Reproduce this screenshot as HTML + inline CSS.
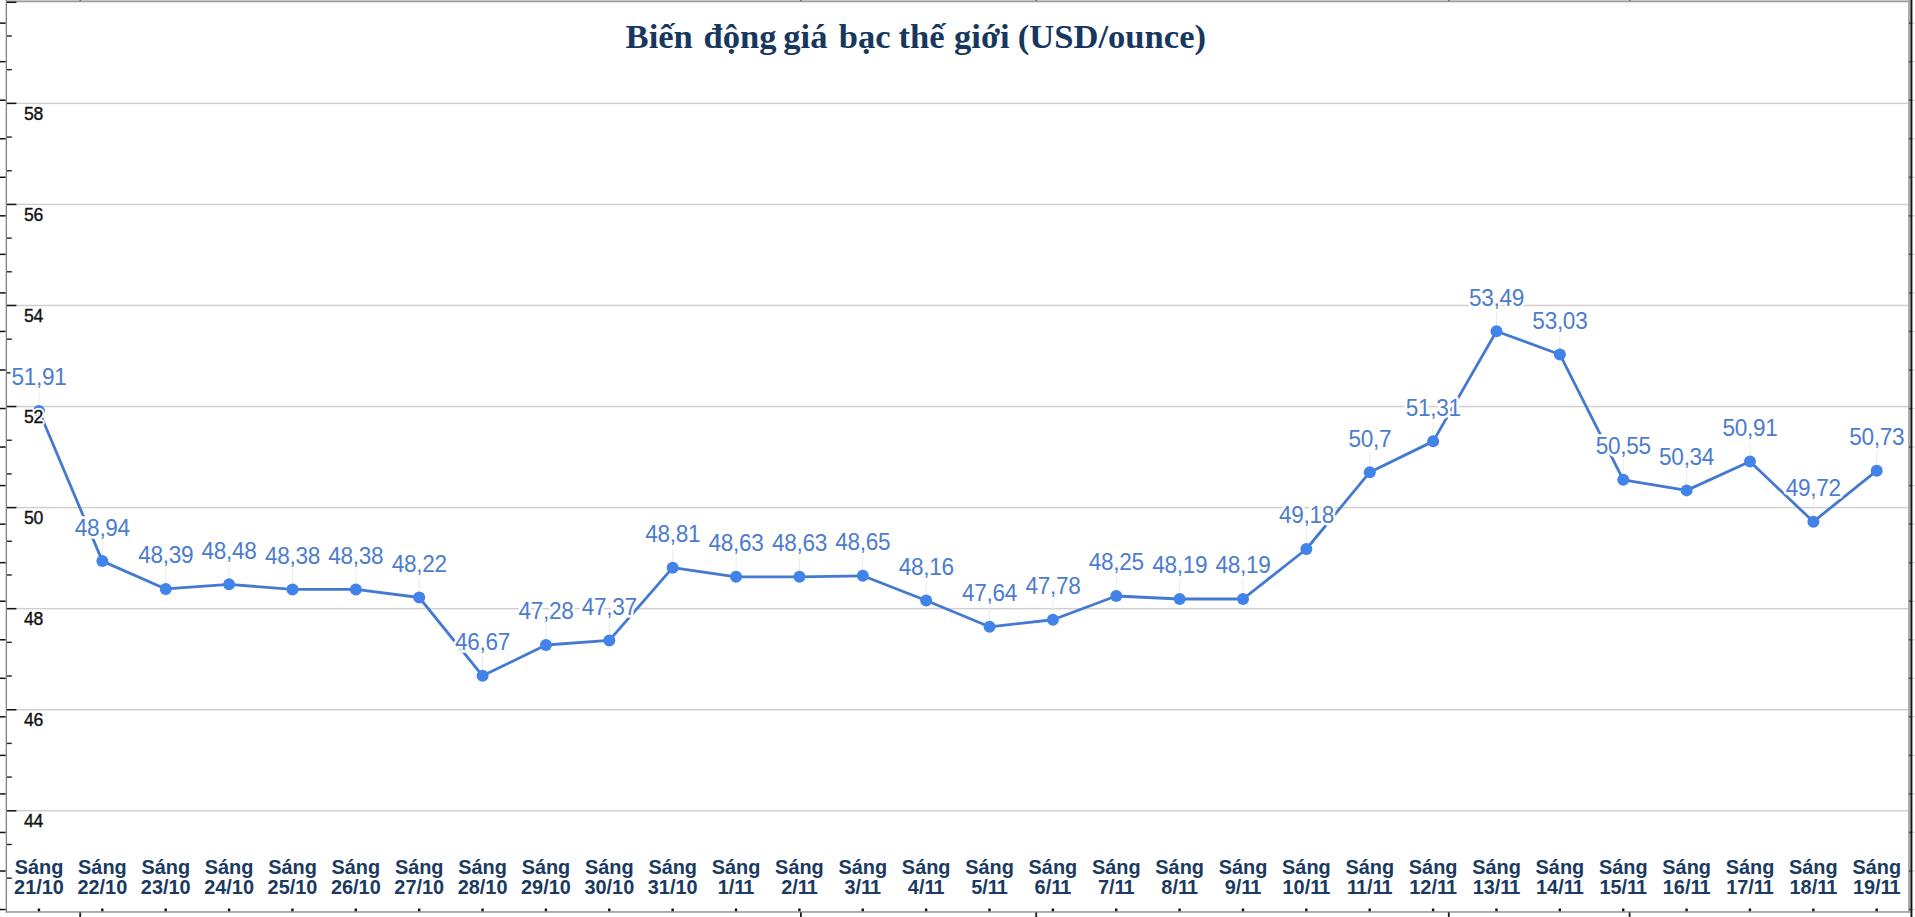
<!DOCTYPE html>
<html lang="vi"><head><meta charset="utf-8"><title>Biến động giá bạc thế giới</title>
<style>
html,body{margin:0;padding:0;background:#fff;}
body{width:1915px;height:917px;overflow:hidden;}
svg{display:block;}
.yh,.yl{font-family:"Liberation Sans",Arial,sans-serif;font-size:17.6px;letter-spacing:-0.5px;}
.yh{fill:#fff;stroke:#fff;stroke-width:4px;stroke-linejoin:round;}
.yl{fill:#111;stroke:#111;stroke-width:0.35px;}
.dh,.dl{font-family:"Liberation Sans",Arial,sans-serif;font-size:22.6px;letter-spacing:-0.3px;text-anchor:middle;}
.dh{fill:#fff;stroke:#fff;stroke-width:5px;stroke-linejoin:round;}
.dl{fill:#4c7ccd;}
.xl{font-family:"Liberation Sans",Arial,sans-serif;font-size:19.9px;font-weight:bold;fill:#1b3a5f;text-anchor:middle;}
.tt{font-family:"Liberation Serif","Times New Roman",serif;font-size:34.6px;font-weight:bold;fill:#17375e;text-anchor:start;}
</style></head><body>
<svg width="1915" height="917" viewBox="0 0 1915 917">
<rect x="0" y="0" width="1915" height="917" fill="#fff"/>

<rect x="1912" y="22.52" width="3" height="1.2" fill="#d8d8d8"/>
<rect x="1912" y="61.06" width="3" height="1.2" fill="#d8d8d8"/>
<rect x="1912" y="99.60" width="3" height="1.2" fill="#d8d8d8"/>
<rect x="1912" y="138.14" width="3" height="1.2" fill="#d8d8d8"/>
<rect x="1912" y="176.68" width="3" height="1.2" fill="#d8d8d8"/>
<rect x="1912" y="215.22" width="3" height="1.2" fill="#d8d8d8"/>
<rect x="1912" y="253.76" width="3" height="1.2" fill="#d8d8d8"/>
<rect x="1912" y="292.30" width="3" height="1.2" fill="#d8d8d8"/>
<rect x="1912" y="330.84" width="3" height="1.2" fill="#d8d8d8"/>
<rect x="1912" y="369.38" width="3" height="1.2" fill="#d8d8d8"/>
<rect x="1912" y="407.92" width="3" height="1.2" fill="#d8d8d8"/>
<rect x="1912" y="446.46" width="3" height="1.2" fill="#d8d8d8"/>
<rect x="1912" y="485.00" width="3" height="1.2" fill="#d8d8d8"/>
<rect x="1912" y="523.54" width="3" height="1.2" fill="#d8d8d8"/>
<rect x="1912" y="562.08" width="3" height="1.2" fill="#d8d8d8"/>
<rect x="1912" y="600.62" width="3" height="1.2" fill="#d8d8d8"/>
<rect x="1912" y="639.16" width="3" height="1.2" fill="#d8d8d8"/>
<rect x="1912" y="677.70" width="3" height="1.2" fill="#d8d8d8"/>
<rect x="1912" y="716.24" width="3" height="1.2" fill="#d8d8d8"/>
<rect x="1912" y="754.78" width="3" height="1.2" fill="#d8d8d8"/>
<rect x="1912" y="793.32" width="3" height="1.2" fill="#d8d8d8"/>
<rect x="1912" y="831.86" width="3" height="1.2" fill="#d8d8d8"/>
<rect x="1912" y="870.40" width="3" height="1.2" fill="#d8d8d8"/>
<rect x="1912" y="908.94" width="3" height="1.2" fill="#d8d8d8"/>
<rect x="7" y="102.61" width="1902" height="1.5" fill="#d0d0d0"/>
<rect x="7" y="203.67" width="1902" height="1.5" fill="#d0d0d0"/>
<rect x="7" y="304.73" width="1902" height="1.5" fill="#d0d0d0"/>
<rect x="7" y="405.79" width="1902" height="1.5" fill="#d0d0d0"/>
<rect x="7" y="506.85" width="1902" height="1.5" fill="#d0d0d0"/>
<rect x="7" y="607.91" width="1902" height="1.5" fill="#d0d0d0"/>
<rect x="7" y="708.97" width="1902" height="1.5" fill="#d0d0d0"/>
<rect x="7" y="810.03" width="1902" height="1.5" fill="#d0d0d0"/>
<rect x="6" y="0" width="1904" height="1" fill="#c6c6c6"/>
<rect x="6" y="1" width="1904" height="1.2" fill="#9c9c9c"/>
<rect x="17" y="2.2" width="1891" height="0.8" fill="#e4e4e4"/>
<rect x="6" y="911.1" width="1904" height="1.7" fill="#a2a2a2"/>
<rect x="5.7" y="0" width="1.3" height="912.6" fill="#808080"/>
<rect x="1908" y="0" width="2.5" height="912.8" fill="#adadad"/>
<rect x="1910.5" y="0" width="1.9" height="917" fill="#111"/>
<rect x="7" y="1.55" width="9.4" height="1.5" fill="#151515"/>
<rect x="7" y="35.29" width="4.8" height="1.4" fill="#222"/>
<rect x="7" y="68.97" width="4.8" height="1.4" fill="#222"/>
<rect x="7" y="102.61" width="9.4" height="1.5" fill="#151515"/>
<rect x="7" y="136.35" width="4.8" height="1.4" fill="#222"/>
<rect x="7" y="170.03" width="4.8" height="1.4" fill="#222"/>
<rect x="7" y="203.67" width="9.4" height="1.5" fill="#151515"/>
<rect x="7" y="237.41" width="4.8" height="1.4" fill="#222"/>
<rect x="7" y="271.09" width="4.8" height="1.4" fill="#222"/>
<rect x="7" y="304.73" width="9.4" height="1.5" fill="#151515"/>
<rect x="7" y="338.47" width="4.8" height="1.4" fill="#222"/>
<rect x="7" y="372.15" width="4.8" height="1.4" fill="#222"/>
<rect x="7" y="405.79" width="9.4" height="1.5" fill="#151515"/>
<rect x="7" y="439.53" width="4.8" height="1.4" fill="#222"/>
<rect x="7" y="473.21" width="4.8" height="1.4" fill="#222"/>
<rect x="7" y="506.85" width="9.4" height="1.5" fill="#151515"/>
<rect x="7" y="540.59" width="4.8" height="1.4" fill="#222"/>
<rect x="7" y="574.27" width="4.8" height="1.4" fill="#222"/>
<rect x="7" y="607.91" width="9.4" height="1.5" fill="#151515"/>
<rect x="7" y="641.65" width="4.8" height="1.4" fill="#222"/>
<rect x="7" y="675.33" width="4.8" height="1.4" fill="#222"/>
<rect x="7" y="708.97" width="9.4" height="1.5" fill="#151515"/>
<rect x="7" y="742.71" width="4.8" height="1.4" fill="#222"/>
<rect x="7" y="776.39" width="4.8" height="1.4" fill="#222"/>
<rect x="7" y="810.03" width="9.4" height="1.5" fill="#151515"/>
<rect x="7" y="843.77" width="4.8" height="1.4" fill="#222"/>
<rect x="7" y="877.45" width="4.8" height="1.4" fill="#222"/>
<rect x="0" y="22.37" width="5.6" height="1.5" fill="#111"/>
<rect x="1909.2" y="22.32" width="1.6" height="1.6" fill="#333"/>
<rect x="0" y="60.91" width="5.6" height="1.5" fill="#111"/>
<rect x="1909.2" y="60.86" width="1.6" height="1.6" fill="#333"/>
<rect x="0" y="99.45" width="5.6" height="1.5" fill="#111"/>
<rect x="1909.2" y="99.40" width="1.6" height="1.6" fill="#333"/>
<rect x="0" y="137.99" width="5.6" height="1.5" fill="#111"/>
<rect x="1909.2" y="137.94" width="1.6" height="1.6" fill="#333"/>
<rect x="0" y="176.53" width="5.6" height="1.5" fill="#111"/>
<rect x="1909.2" y="176.48" width="1.6" height="1.6" fill="#333"/>
<rect x="0" y="215.07" width="5.6" height="1.5" fill="#111"/>
<rect x="1909.2" y="215.02" width="1.6" height="1.6" fill="#333"/>
<rect x="0" y="253.61" width="5.6" height="1.5" fill="#111"/>
<rect x="1909.2" y="253.56" width="1.6" height="1.6" fill="#333"/>
<rect x="0" y="292.15" width="5.6" height="1.5" fill="#111"/>
<rect x="1909.2" y="292.10" width="1.6" height="1.6" fill="#333"/>
<rect x="0" y="330.69" width="5.6" height="1.5" fill="#111"/>
<rect x="1909.2" y="330.64" width="1.6" height="1.6" fill="#333"/>
<rect x="0" y="369.23" width="5.6" height="1.5" fill="#111"/>
<rect x="1909.2" y="369.18" width="1.6" height="1.6" fill="#333"/>
<rect x="0" y="407.77" width="5.6" height="1.5" fill="#111"/>
<rect x="1909.2" y="407.72" width="1.6" height="1.6" fill="#333"/>
<rect x="0" y="446.31" width="5.6" height="1.5" fill="#111"/>
<rect x="1909.2" y="446.26" width="1.6" height="1.6" fill="#333"/>
<rect x="0" y="484.85" width="5.6" height="1.5" fill="#111"/>
<rect x="1909.2" y="484.80" width="1.6" height="1.6" fill="#333"/>
<rect x="0" y="523.39" width="5.6" height="1.5" fill="#111"/>
<rect x="1909.2" y="523.34" width="1.6" height="1.6" fill="#333"/>
<rect x="0" y="561.93" width="5.6" height="1.5" fill="#111"/>
<rect x="1909.2" y="561.88" width="1.6" height="1.6" fill="#333"/>
<rect x="0" y="600.47" width="5.6" height="1.5" fill="#111"/>
<rect x="1909.2" y="600.42" width="1.6" height="1.6" fill="#333"/>
<rect x="0" y="639.01" width="5.6" height="1.5" fill="#111"/>
<rect x="1909.2" y="638.96" width="1.6" height="1.6" fill="#333"/>
<rect x="0" y="677.55" width="5.6" height="1.5" fill="#111"/>
<rect x="1909.2" y="677.50" width="1.6" height="1.6" fill="#333"/>
<rect x="0" y="716.09" width="5.6" height="1.5" fill="#111"/>
<rect x="1909.2" y="716.04" width="1.6" height="1.6" fill="#333"/>
<rect x="0" y="754.63" width="5.6" height="1.5" fill="#111"/>
<rect x="1909.2" y="754.58" width="1.6" height="1.6" fill="#333"/>
<rect x="0" y="793.17" width="5.6" height="1.5" fill="#111"/>
<rect x="1909.2" y="793.12" width="1.6" height="1.6" fill="#333"/>
<rect x="0" y="831.71" width="5.6" height="1.5" fill="#111"/>
<rect x="1909.2" y="831.66" width="1.6" height="1.6" fill="#333"/>
<rect x="0" y="870.25" width="5.6" height="1.5" fill="#111"/>
<rect x="1909.2" y="870.20" width="1.6" height="1.6" fill="#333"/>
<rect x="0" y="908.79" width="5.6" height="1.5" fill="#111"/>
<rect x="1909.2" y="908.74" width="1.6" height="1.6" fill="#333"/>
<rect x="79.30" y="912.4" width="1.8" height="4.6" fill="#1c1c1c"/>
<rect x="79.50" y="0" width="1.4" height="1" fill="#555"/>
<rect x="800.00" y="912.4" width="1.8" height="4.6" fill="#1c1c1c"/>
<rect x="800.20" y="0" width="1.4" height="1" fill="#555"/>
<rect x="1035.30" y="912.4" width="1.8" height="4.6" fill="#1c1c1c"/>
<rect x="1035.50" y="0" width="1.4" height="1" fill="#555"/>
<rect x="1447.90" y="912.4" width="1.8" height="4.6" fill="#1c1c1c"/>
<rect x="1448.10" y="0" width="1.4" height="1" fill="#555"/>
<rect x="1628.70" y="912.4" width="1.8" height="4.6" fill="#1c1c1c"/>
<rect x="1628.90" y="0" width="1.4" height="1" fill="#555"/>
<rect x="37.75" y="908.5" width="2.4" height="2.7" fill="#111"/>
<rect x="101.12" y="908.5" width="2.4" height="2.7" fill="#111"/>
<rect x="164.49" y="908.5" width="2.4" height="2.7" fill="#111"/>
<rect x="227.86" y="908.5" width="2.4" height="2.7" fill="#111"/>
<rect x="291.23" y="908.5" width="2.4" height="2.7" fill="#111"/>
<rect x="354.60" y="908.5" width="2.4" height="2.7" fill="#111"/>
<rect x="417.97" y="908.5" width="2.4" height="2.7" fill="#111"/>
<rect x="481.34" y="908.5" width="2.4" height="2.7" fill="#111"/>
<rect x="544.71" y="908.5" width="2.4" height="2.7" fill="#111"/>
<rect x="608.08" y="908.5" width="2.4" height="2.7" fill="#111"/>
<rect x="671.45" y="908.5" width="2.4" height="2.7" fill="#111"/>
<rect x="734.82" y="908.5" width="2.4" height="2.7" fill="#111"/>
<rect x="798.19" y="908.5" width="2.4" height="2.7" fill="#111"/>
<rect x="861.56" y="908.5" width="2.4" height="2.7" fill="#111"/>
<rect x="924.93" y="908.5" width="2.4" height="2.7" fill="#111"/>
<rect x="988.30" y="908.5" width="2.4" height="2.7" fill="#111"/>
<rect x="1051.67" y="908.5" width="2.4" height="2.7" fill="#111"/>
<rect x="1115.04" y="908.5" width="2.4" height="2.7" fill="#111"/>
<rect x="1178.41" y="908.5" width="2.4" height="2.7" fill="#111"/>
<rect x="1241.78" y="908.5" width="2.4" height="2.7" fill="#111"/>
<rect x="1305.15" y="908.5" width="2.4" height="2.7" fill="#111"/>
<rect x="1368.52" y="908.5" width="2.4" height="2.7" fill="#111"/>
<rect x="1431.89" y="908.5" width="2.4" height="2.7" fill="#111"/>
<rect x="1495.26" y="908.5" width="2.4" height="2.7" fill="#111"/>
<rect x="1558.63" y="908.5" width="2.4" height="2.7" fill="#111"/>
<rect x="1622.00" y="908.5" width="2.4" height="2.7" fill="#111"/>
<rect x="1685.37" y="908.5" width="2.4" height="2.7" fill="#111"/>
<rect x="1748.74" y="908.5" width="2.4" height="2.7" fill="#111"/>
<rect x="1812.11" y="908.5" width="2.4" height="2.7" fill="#111"/>
<rect x="1875.48" y="908.5" width="2.4" height="2.7" fill="#111"/>
<rect x="38.50" y="391.05" width="1" height="16" fill="#ebebeb"/>
<rect x="101.87" y="541.12" width="1" height="16" fill="#ebebeb"/>
<rect x="165.24" y="568.91" width="1" height="16" fill="#ebebeb"/>
<rect x="228.61" y="564.37" width="1" height="16" fill="#ebebeb"/>
<rect x="291.98" y="569.42" width="1" height="16" fill="#ebebeb"/>
<rect x="355.35" y="569.42" width="1" height="16" fill="#ebebeb"/>
<rect x="418.72" y="577.50" width="1" height="16" fill="#ebebeb"/>
<rect x="482.09" y="655.82" width="1" height="16" fill="#ebebeb"/>
<rect x="545.46" y="625.00" width="1" height="16" fill="#ebebeb"/>
<rect x="608.83" y="620.45" width="1" height="16" fill="#ebebeb"/>
<rect x="672.20" y="547.69" width="1" height="16" fill="#ebebeb"/>
<rect x="735.57" y="556.79" width="1" height="16" fill="#ebebeb"/>
<rect x="798.94" y="556.79" width="1" height="16" fill="#ebebeb"/>
<rect x="862.31" y="555.78" width="1" height="16" fill="#ebebeb"/>
<rect x="925.68" y="580.54" width="1" height="16" fill="#ebebeb"/>
<rect x="989.05" y="606.81" width="1" height="16" fill="#ebebeb"/>
<rect x="1052.42" y="599.74" width="1" height="16" fill="#ebebeb"/>
<rect x="1115.79" y="575.99" width="1" height="16" fill="#ebebeb"/>
<rect x="1179.16" y="579.02" width="1" height="16" fill="#ebebeb"/>
<rect x="1242.53" y="579.02" width="1" height="16" fill="#ebebeb"/>
<rect x="1305.90" y="528.99" width="1" height="16" fill="#ebebeb"/>
<rect x="1369.27" y="452.19" width="1" height="16" fill="#ebebeb"/>
<rect x="1432.64" y="421.37" width="1" height="16" fill="#ebebeb"/>
<rect x="1496.01" y="311.21" width="1" height="16" fill="#ebebeb"/>
<rect x="1559.38" y="334.45" width="1" height="16" fill="#ebebeb"/>
<rect x="1622.75" y="459.77" width="1" height="16" fill="#ebebeb"/>
<rect x="1686.12" y="470.38" width="1" height="16" fill="#ebebeb"/>
<rect x="1749.49" y="441.58" width="1" height="16" fill="#ebebeb"/>
<rect x="1812.86" y="501.71" width="1" height="16" fill="#ebebeb"/>
<rect x="1876.23" y="450.67" width="1" height="16" fill="#ebebeb"/>
<polyline points="39.00,411.05 102.37,561.12 165.74,588.91 229.11,584.37 292.48,589.42 355.85,589.42 419.22,597.50 482.59,675.82 545.96,645.00 609.33,640.45 672.70,567.69 736.07,576.79 799.44,576.79 862.81,575.78 926.18,600.54 989.55,626.81 1052.92,619.74 1116.29,595.99 1179.66,599.02 1243.03,599.02 1306.40,548.99 1369.77,472.19 1433.14,441.37 1496.51,331.21 1559.88,354.45 1623.25,479.77 1686.62,490.38 1749.99,461.58 1813.36,521.71 1876.73,470.67" fill="none" stroke="#4479d2" stroke-width="2.8" stroke-linejoin="round"/>
<circle cx="39.00" cy="411.05" r="6" fill="#4283ea"/>
<circle cx="102.37" cy="561.12" r="6" fill="#4283ea"/>
<circle cx="165.74" cy="588.91" r="6" fill="#4283ea"/>
<circle cx="229.11" cy="584.37" r="6" fill="#4283ea"/>
<circle cx="292.48" cy="589.42" r="6" fill="#4283ea"/>
<circle cx="355.85" cy="589.42" r="6" fill="#4283ea"/>
<circle cx="419.22" cy="597.50" r="6" fill="#4283ea"/>
<circle cx="482.59" cy="675.82" r="6" fill="#4283ea"/>
<circle cx="545.96" cy="645.00" r="6" fill="#4283ea"/>
<circle cx="609.33" cy="640.45" r="6" fill="#4283ea"/>
<circle cx="672.70" cy="567.69" r="6" fill="#4283ea"/>
<circle cx="736.07" cy="576.79" r="6" fill="#4283ea"/>
<circle cx="799.44" cy="576.79" r="6" fill="#4283ea"/>
<circle cx="862.81" cy="575.78" r="6" fill="#4283ea"/>
<circle cx="926.18" cy="600.54" r="6" fill="#4283ea"/>
<circle cx="989.55" cy="626.81" r="6" fill="#4283ea"/>
<circle cx="1052.92" cy="619.74" r="6" fill="#4283ea"/>
<circle cx="1116.29" cy="595.99" r="6" fill="#4283ea"/>
<circle cx="1179.66" cy="599.02" r="6" fill="#4283ea"/>
<circle cx="1243.03" cy="599.02" r="6" fill="#4283ea"/>
<circle cx="1306.40" cy="548.99" r="6" fill="#4283ea"/>
<circle cx="1369.77" cy="472.19" r="6" fill="#4283ea"/>
<circle cx="1433.14" cy="441.37" r="6" fill="#4283ea"/>
<circle cx="1496.51" cy="331.21" r="6" fill="#4283ea"/>
<circle cx="1559.88" cy="354.45" r="6" fill="#4283ea"/>
<circle cx="1623.25" cy="479.77" r="6" fill="#4283ea"/>
<circle cx="1686.62" cy="490.38" r="6" fill="#4283ea"/>
<circle cx="1749.99" cy="461.58" r="6" fill="#4283ea"/>
<circle cx="1813.36" cy="521.71" r="6" fill="#4283ea"/>
<circle cx="1876.73" cy="470.67" r="6" fill="#4283ea"/>
<g transform="translate(39.00,385.45) scale(1,1.055)"><text class="dh">51,91</text><text class="dl">51,91</text></g>
<g transform="translate(102.37,535.52) scale(1,1.055)"><text class="dh">48,94</text><text class="dl">48,94</text></g>
<g transform="translate(165.74,563.31) scale(1,1.055)"><text class="dh">48,39</text><text class="dl">48,39</text></g>
<g transform="translate(229.11,558.77) scale(1,1.055)"><text class="dh">48,48</text><text class="dl">48,48</text></g>
<g transform="translate(292.48,563.82) scale(1,1.055)"><text class="dh">48,38</text><text class="dl">48,38</text></g>
<g transform="translate(355.85,563.82) scale(1,1.055)"><text class="dh">48,38</text><text class="dl">48,38</text></g>
<g transform="translate(419.22,571.90) scale(1,1.055)"><text class="dh">48,22</text><text class="dl">48,22</text></g>
<g transform="translate(482.59,650.22) scale(1,1.055)"><text class="dh">46,67</text><text class="dl">46,67</text></g>
<g transform="translate(545.96,619.40) scale(1,1.055)"><text class="dh">47,28</text><text class="dl">47,28</text></g>
<g transform="translate(609.33,614.85) scale(1,1.055)"><text class="dh">47,37</text><text class="dl">47,37</text></g>
<g transform="translate(672.70,542.09) scale(1,1.055)"><text class="dh">48,81</text><text class="dl">48,81</text></g>
<g transform="translate(736.07,551.19) scale(1,1.055)"><text class="dh">48,63</text><text class="dl">48,63</text></g>
<g transform="translate(799.44,551.19) scale(1,1.055)"><text class="dh">48,63</text><text class="dl">48,63</text></g>
<g transform="translate(862.81,550.18) scale(1,1.055)"><text class="dh">48,65</text><text class="dl">48,65</text></g>
<g transform="translate(926.18,574.94) scale(1,1.055)"><text class="dh">48,16</text><text class="dl">48,16</text></g>
<g transform="translate(989.55,601.21) scale(1,1.055)"><text class="dh">47,64</text><text class="dl">47,64</text></g>
<g transform="translate(1052.92,594.14) scale(1,1.055)"><text class="dh">47,78</text><text class="dl">47,78</text></g>
<g transform="translate(1116.29,570.39) scale(1,1.055)"><text class="dh">48,25</text><text class="dl">48,25</text></g>
<g transform="translate(1179.66,573.42) scale(1,1.055)"><text class="dh">48,19</text><text class="dl">48,19</text></g>
<g transform="translate(1243.03,573.42) scale(1,1.055)"><text class="dh">48,19</text><text class="dl">48,19</text></g>
<g transform="translate(1306.40,523.39) scale(1,1.055)"><text class="dh">49,18</text><text class="dl">49,18</text></g>
<g transform="translate(1369.77,446.59) scale(1,1.055)"><text class="dh">50,7</text><text class="dl">50,7</text></g>
<g transform="translate(1433.14,415.77) scale(1,1.055)"><text class="dh">51,31</text><text class="dl">51,31</text></g>
<g transform="translate(1496.51,305.61) scale(1,1.055)"><text class="dh">53,49</text><text class="dl">53,49</text></g>
<g transform="translate(1559.88,328.85) scale(1,1.055)"><text class="dh">53,03</text><text class="dl">53,03</text></g>
<g transform="translate(1623.25,454.17) scale(1,1.055)"><text class="dh">50,55</text><text class="dl">50,55</text></g>
<g transform="translate(1686.62,464.78) scale(1,1.055)"><text class="dh">50,34</text><text class="dl">50,34</text></g>
<g transform="translate(1749.99,435.98) scale(1,1.055)"><text class="dh">50,91</text><text class="dl">50,91</text></g>
<g transform="translate(1813.36,496.11) scale(1,1.055)"><text class="dh">49,72</text><text class="dl">49,72</text></g>
<g transform="translate(1876.73,445.07) scale(1,1.055)"><text class="dh">50,73</text><text class="dl">50,73</text></g>
<text class="yh" x="24.1" y="119.86">58</text><text class="yl" x="24.1" y="119.86">58</text>
<text class="yh" x="24.1" y="220.92">56</text><text class="yl" x="24.1" y="220.92">56</text>
<text class="yh" x="24.1" y="321.98">54</text><text class="yl" x="24.1" y="321.98">54</text>
<text class="yh" x="24.1" y="423.04">52</text><text class="yl" x="24.1" y="423.04">52</text>
<text class="yh" x="24.1" y="524.10">50</text><text class="yl" x="24.1" y="524.10">50</text>
<text class="yh" x="24.1" y="625.16">48</text><text class="yl" x="24.1" y="625.16">48</text>
<text class="yh" x="24.1" y="726.22">46</text><text class="yl" x="24.1" y="726.22">46</text>
<text class="yh" x="24.1" y="827.28">44</text><text class="yl" x="24.1" y="827.28">44</text>
<text class="xl" x="39.00" y="873.7">Sáng</text>
<text class="xl" x="39.00" y="893.8">21/10</text>
<text class="xl" x="102.37" y="873.7">Sáng</text>
<text class="xl" x="102.37" y="893.8">22/10</text>
<text class="xl" x="165.74" y="873.7">Sáng</text>
<text class="xl" x="165.74" y="893.8">23/10</text>
<text class="xl" x="229.11" y="873.7">Sáng</text>
<text class="xl" x="229.11" y="893.8">24/10</text>
<text class="xl" x="292.48" y="873.7">Sáng</text>
<text class="xl" x="292.48" y="893.8">25/10</text>
<text class="xl" x="355.85" y="873.7">Sáng</text>
<text class="xl" x="355.85" y="893.8">26/10</text>
<text class="xl" x="419.22" y="873.7">Sáng</text>
<text class="xl" x="419.22" y="893.8">27/10</text>
<text class="xl" x="482.59" y="873.7">Sáng</text>
<text class="xl" x="482.59" y="893.8">28/10</text>
<text class="xl" x="545.96" y="873.7">Sáng</text>
<text class="xl" x="545.96" y="893.8">29/10</text>
<text class="xl" x="609.33" y="873.7">Sáng</text>
<text class="xl" x="609.33" y="893.8">30/10</text>
<text class="xl" x="672.70" y="873.7">Sáng</text>
<text class="xl" x="672.70" y="893.8">31/10</text>
<text class="xl" x="736.07" y="873.7">Sáng</text>
<text class="xl" x="736.07" y="893.8">1/1<tspan dx="-1">1</tspan></text>
<text class="xl" x="799.44" y="873.7">Sáng</text>
<text class="xl" x="799.44" y="893.8">2/1<tspan dx="-1">1</tspan></text>
<text class="xl" x="862.81" y="873.7">Sáng</text>
<text class="xl" x="862.81" y="893.8">3/1<tspan dx="-1">1</tspan></text>
<text class="xl" x="926.18" y="873.7">Sáng</text>
<text class="xl" x="926.18" y="893.8">4/1<tspan dx="-1">1</tspan></text>
<text class="xl" x="989.55" y="873.7">Sáng</text>
<text class="xl" x="989.55" y="893.8">5/1<tspan dx="-1">1</tspan></text>
<text class="xl" x="1052.92" y="873.7">Sáng</text>
<text class="xl" x="1052.92" y="893.8">6/1<tspan dx="-1">1</tspan></text>
<text class="xl" x="1116.29" y="873.7">Sáng</text>
<text class="xl" x="1116.29" y="893.8">7/1<tspan dx="-1">1</tspan></text>
<text class="xl" x="1179.66" y="873.7">Sáng</text>
<text class="xl" x="1179.66" y="893.8">8/1<tspan dx="-1">1</tspan></text>
<text class="xl" x="1243.03" y="873.7">Sáng</text>
<text class="xl" x="1243.03" y="893.8">9/1<tspan dx="-1">1</tspan></text>
<text class="xl" x="1306.40" y="873.7">Sáng</text>
<text class="xl" x="1306.40" y="893.8">10/1<tspan dx="-1">1</tspan></text>
<text class="xl" x="1369.77" y="873.7">Sáng</text>
<text class="xl" x="1369.77" y="893.8">1<tspan dx="-1">1</tspan>/1<tspan dx="-1">1</tspan></text>
<text class="xl" x="1433.14" y="873.7">Sáng</text>
<text class="xl" x="1433.14" y="893.8">12/1<tspan dx="-1">1</tspan></text>
<text class="xl" x="1496.51" y="873.7">Sáng</text>
<text class="xl" x="1496.51" y="893.8">13/1<tspan dx="-1">1</tspan></text>
<text class="xl" x="1559.88" y="873.7">Sáng</text>
<text class="xl" x="1559.88" y="893.8">14/1<tspan dx="-1">1</tspan></text>
<text class="xl" x="1623.25" y="873.7">Sáng</text>
<text class="xl" x="1623.25" y="893.8">15/1<tspan dx="-1">1</tspan></text>
<text class="xl" x="1686.62" y="873.7">Sáng</text>
<text class="xl" x="1686.62" y="893.8">16/1<tspan dx="-1">1</tspan></text>
<text class="xl" x="1749.99" y="873.7">Sáng</text>
<text class="xl" x="1749.99" y="893.8">17/1<tspan dx="-1">1</tspan></text>
<text class="xl" x="1813.36" y="873.7">Sáng</text>
<text class="xl" x="1813.36" y="893.8">18/1<tspan dx="-1">1</tspan></text>
<text class="xl" x="1876.73" y="873.7">Sáng</text>
<text class="xl" x="1876.73" y="893.8">19/1<tspan dx="-1">1</tspan></text>
<text class="tt" x="625.6" y="47.8">Biến <tspan dx="2.0">động</tspan> <tspan dx="-1.9">giá</tspan> <tspan dx="2.6">bạc</tspan> <tspan dx="-0.8">thế</tspan> <tspan dx="0.8">giới</tspan> <tspan dx="-0.6">(USD/ounce)</tspan></text>
</svg></body></html>
